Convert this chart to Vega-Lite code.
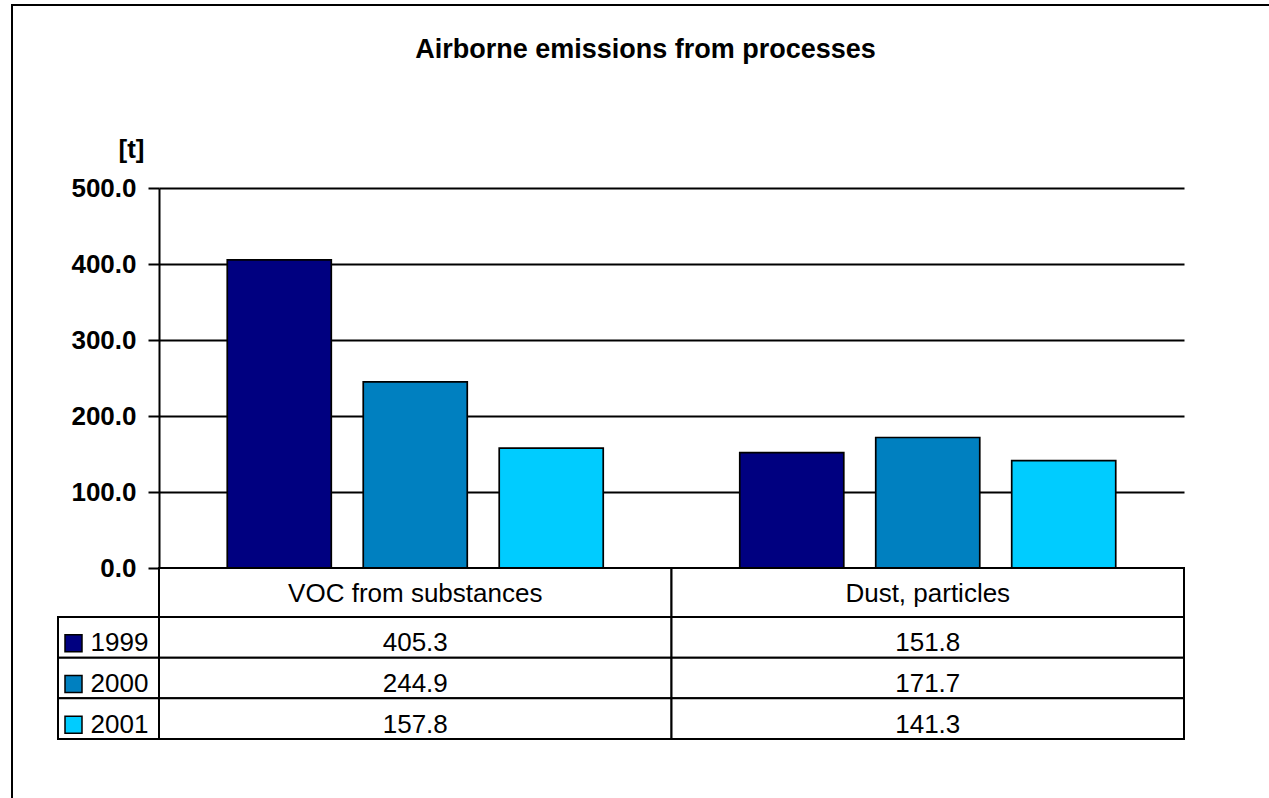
{
  "$schema": "https://vega.github.io/schema/vega-lite/v6.json",
  "padding": {"left": 11, "top": 4, "right": 0, "bottom": 0},
  "background": "white",
  "datasets": {
    "emissions": [
      {"category": "VOC from substances", "year": "1999", "value": 405.3},
      {"category": "VOC from substances", "year": "2000", "value": 244.9},
      {"category": "VOC from substances", "year": "2001", "value": 157.8},
      {"category": "Dust, particles", "year": "1999", "value": 151.8},
      {"category": "Dust, particles", "year": "2000", "value": 171.7},
      {"category": "Dust, particles", "year": "2001", "value": 141.3}
    ],
    "categories": [
      {"category": "VOC from substances"},
      {"category": "Dust, particles"}
    ],
    "years": [
      {"year": "1999"},
      {"year": "2000"},
      {"year": "2001"}
    ]
  },
  "columns": 2,
  "spacing": 0,
  "bounds": "flush",
  "align": "each",
  "concat": [
    {
      "width": 101,
      "height": 380,
      "data": {"name": "emissions"},
      "mark": {"type": "point", "opacity": 0},
      "encoding": {
        "color": {
          "field": "value",
          "type": "quantitative",
          "legend": {
            "orient": "none",
            "legendX": -46,
            "legendY": -183,
            "direction": "vertical",
            "gradientLength": 795,
            "gradientThickness": 1259,
            "gradientOpacity": 0,
            "gradientStrokeWidth": 0,
            "labelExpr": "''",
            "labelOffset": 0,
            "title": null,
            "padding": 0,
            "strokeColor": "black"
          }
        }
      }
    },
    {
      "width": 1025,
      "height": 380,
      "data": {"name": "emissions"},
      "title": {
        "text": "Airborne emissions from processes",
        "frame": "group",
        "anchor": "middle",
        "dx": -26,
        "offset": 72,
        "fontSize": 27,
        "fontWeight": "bold",
        "font": "Liberation Sans",
        "color": "black"
      },
      "mark": {"type": "bar", "stroke": "black", "strokeWidth": 1.7},
      "encoding": {
        "x": {
          "field": "category",
          "type": "nominal",
          "sort": ["VOC from substances", "Dust, particles"],
          "scale": {"paddingInner": 0, "paddingOuter": 0},
          "axis": null
        },
        "xOffset": {
          "field": "year",
          "type": "nominal",
          "sort": ["1999", "2000", "2001"],
          "scale": {"paddingInner": 0.235, "paddingOuter": 0.502}
        },
        "y": {
          "field": "value",
          "type": "quantitative",
          "scale": {"domain": [0, 500], "nice": false},
          "axis": {
            "values": [0, 100, 200, 300, 400, 500],
            "format": ".1f",
            "labelFont": "Liberation Sans",
            "labelFontSize": 26,
            "labelFontWeight": "bold",
            "labelColor": "black",
            "labelPadding": 12,
            "tickSize": 11,
            "tickColor": "black",
            "tickWidth": 2,
            "domainColor": "black",
            "domainWidth": 2,
            "grid": true,
            "gridColor": "black",
            "gridWidth": 2,
            "gridOpacity": 1,
            "title": "[t]",
            "titleFont": "Liberation Sans",
            "titleAngle": 0,
            "titleFontSize": 26,
            "titleFontWeight": "bold",
            "titleColor": "black",
            "titleX": -28,
            "titleY": -31,
            "titleAlign": "center",
            "titleBaseline": "alphabetic"
          }
        },
        "color": {
          "field": "year",
          "type": "nominal",
          "scale": {"domain": ["1999", "2000", "2001"], "range": ["#000080", "#0080C0", "#00CCFF"]},
          "legend": null
        }
      }
    },
    {
      "width": 101,
      "height": 49,
      "data": {"name": "categories"},
      "mark": {"type": "point", "opacity": 0},
      "encoding": {}
    },
    {
      "width": 1025,
      "height": 49,
      "data": {"name": "categories"},
      "encoding": {
        "x": {
          "field": "category",
          "type": "nominal",
          "sort": ["VOC from substances", "Dust, particles"],
          "scale": {"paddingInner": 0, "paddingOuter": 0},
          "axis": null
        }
      },
      "layer": [
        {"mark": {"type": "rect", "fill": "white", "stroke": "black", "strokeWidth": 2}},
        {
          "mark": {"type": "text", "font": "Liberation Sans", "fontSize": 26, "color": "black", "baseline": "middle", "dy": 1},
          "encoding": {"text": {"field": "category"}}
        }
      ]
    },
    {
      "width": 101,
      "height": 122,
      "data": {"name": "years"},
      "encoding": {
        "y": {
          "field": "year",
          "type": "nominal",
          "sort": ["1999", "2000", "2001"],
          "scale": {"paddingInner": 0, "paddingOuter": 0},
          "axis": null
        }
      },
      "layer": [
        {"mark": {"type": "rect", "fill": "white", "stroke": "black", "strokeWidth": 2}},
        {
          "mark": {"type": "square", "size": 289, "filled": true, "opacity": 1, "stroke": "black", "strokeWidth": 1.5, "xOffset": -35, "yOffset": 6},
          "encoding": {
            "color": {
              "field": "year",
              "type": "nominal",
              "scale": {"domain": ["1999", "2000", "2001"], "range": ["#000080", "#0080C0", "#00CCFF"]},
              "legend": null
            }
          }
        },
        {
          "mark": {"type": "text", "font": "Liberation Sans", "fontSize": 26, "color": "black", "align": "left", "baseline": "middle", "dx": -18, "dy": 6},
          "encoding": {"text": {"field": "year"}}
        }
      ]
    },
    {
      "width": 1025,
      "height": 122,
      "data": {"name": "emissions"},
      "encoding": {
        "x": {
          "field": "category",
          "type": "nominal",
          "sort": ["VOC from substances", "Dust, particles"],
          "scale": {"paddingInner": 0, "paddingOuter": 0},
          "axis": null
        },
        "y": {
          "field": "year",
          "type": "nominal",
          "sort": ["1999", "2000", "2001"],
          "scale": {"paddingInner": 0, "paddingOuter": 0},
          "axis": null
        }
      },
      "layer": [
        {"mark": {"type": "rect", "fill": "white", "stroke": "black", "strokeWidth": 2}},
        {
          "mark": {"type": "text", "font": "Liberation Sans", "fontSize": 26, "color": "black", "baseline": "middle", "dy": 6},
          "encoding": {"text": {"field": "value", "type": "quantitative", "format": ".1f"}}
        }
      ]
    }
  ],
  "config": {
    "view": {"stroke": null},
    "font": "Liberation Sans",
    "legend": {"strokeWidth": 2}
  }
}
